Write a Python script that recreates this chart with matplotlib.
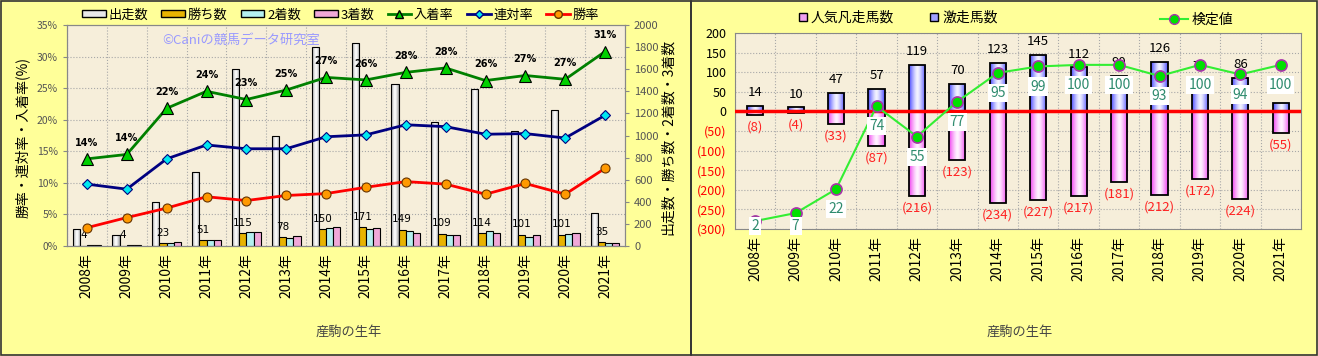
import numpy as np
import matplotlib.pyplot as plt
import matplotlib.colors as mcolors
from matplotlib.patches import Rectangle, Patch
from matplotlib.lines import Line2D
from matplotlib.ticker import MultipleLocator, FuncFormatter

plt.rcParams['font.family'] = ['Noto Sans CJK JP', 'DejaVu Sans']

years = ['2008年', '2009年', '2010年', '2011年', '2012年', '2013年', '2014年',
         '2015年', '2016年', '2017年', '2018年', '2019年', '2020年', '2021年']

# left chart: counts (right axis) and rates (left axis)
runners = [150, 100, 398, 670, 1600, 995, 1800, 1840, 1466, 1122, 1420, 1040, 1230, 298]
wins = [4, 4, 23, 51, 115, 78, 150, 171, 149, 109, 114, 101, 101, 35]
seconds = [10, 5, 31, 55, 131, 74, 162, 153, 132, 103, 138, 84, 109, 25]
thirds = [6, 5, 32, 57, 125, 93, 169, 160, 122, 104, 121, 96, 114, 30]
place_rate = [13.8, 14.5, 21.8, 24.5, 23.2, 24.7, 26.7, 26.3, 27.5, 28.2, 26.2, 27.0, 26.4, 30.8]
place_labels = ['14%', '14%', '22%', '24%', '23%', '25%', '27%', '26%', '28%', '28%',
                '26%', '27%', '27%', '31%']
rentai_rate = [9.8, 9.0, 13.8, 16.0, 15.4, 15.4, 17.3, 17.6, 19.2, 18.9, 17.7, 17.8, 17.1, 20.7]
win_rate = [2.9, 4.5, 6.0, 7.8, 7.2, 8.0, 8.3, 9.3, 10.2, 9.8, 8.2, 9.9, 8.2, 12.3]

# right chart
hot = [14, 10, 47, 57, 119, 70, 123, 145, 112, 90, 126, 79, 86, 21]
hot_labels = ['14', '10', '47', '57', '119', '70', '123', '145', '112', '90', '126', '79', '86', '']
flop = [8, 4, 33, 87, 216, 123, 234, 227, 217, 181, 212, 172, 224, 55]
test_val = [2, 7, 22, 74, 55, 77, 95, 99, 100, 100, 93, 100, 94, 100]

W, H = 1318, 356
BG = '#FFFF99'
PLOT_BG = '#F6EEDA'
GRID = '#A8A8A8'


def fx(px):
    return px / W


def fy(py):
    return 1 - py / H


def gradient_fill(ax, bars, edge_col, mid_col):
    t = np.abs(np.linspace(-1, 1, 48)) ** 1.4
    e = np.array(mcolors.to_rgb(edge_col))
    m = np.array(mcolors.to_rgb(mid_col))
    img = (m[None, :] * (1 - t[:, None]) + e[None, :] * t[:, None])[None, :, :]
    for b in bars:
        x0, y0 = b.get_x(), b.get_y()
        w, h = b.get_width(), b.get_height()
        im = ax.imshow(img, extent=[x0, x0 + w, y0, y0 + h], aspect='auto',
                       origin='lower', interpolation='bilinear',
                       zorder=b.get_zorder() - 0.1)
        im.set_clip_path(b)
        b.set_facecolor('none')


fig = plt.figure(figsize=(W / 100, H / 100), dpi=100)
fig.patch.set_facecolor(BG)
x = np.arange(len(years))

# ---------------- left chart ----------------
ax = fig.add_axes([fx(67), fy(246), fx(625) - fx(67), fy(25) - fy(246)])
ax.set_facecolor(PLOT_BG)
bw = 0.18
b_run = ax.bar(x - 1.5 * bw, runners, bw, edgecolor='black', linewidth=0.8, zorder=2)
ax.bar(x - 0.5 * bw, wins, bw, color='#E8B400', edgecolor='black', linewidth=0.8, zorder=2)
ax.bar(x + 0.5 * bw, seconds, bw, color='#B4F0F0', edgecolor='black', linewidth=0.8, zorder=2)
ax.bar(x + 1.5 * bw, thirds, bw, color='#F0A8D8', edgecolor='black', linewidth=0.8, zorder=2)
gradient_fill(ax, b_run, '#9A9A9A', '#FFFFFF')
ax.set_xlim(-0.5, 13.5)
ax.set_ylim(0, 2000)
ax.yaxis.set_major_locator(MultipleLocator(200))
ax.yaxis.set_minor_locator(MultipleLocator(2000 / 7))
ax.set_xticks(x - 0.5, minor=True)
ax.set_xticks(x, years, rotation=90, fontsize=10)
ax.grid(which='minor', color=GRID, linestyle=':', linewidth=0.8)
ax.set_axisbelow(True)

for xi, v in zip(x, wins):
    ax.annotate(str(v), (xi - 0.5 * bw, v), xytext=(0, 4), textcoords='offset points',
                ha='center', va='bottom', fontsize=7.5, family='DejaVu Sans')

ax2 = ax.twinx()
# bars read on the right, rates on the left
ax.yaxis.tick_right()
ax2.yaxis.tick_left()
ax.tick_params(axis='x', which='both', length=0, pad=5)
ax.tick_params(axis='y', which='minor', length=0, right=False, left=False)
ax.tick_params(axis='y', which='major', length=3, labelsize=8, labelcolor='#555555', color='#888888')
ax2.set_ylim(0, 35)
ax2.yaxis.set_major_locator(MultipleLocator(5))
ax2.yaxis.set_major_formatter(FuncFormatter(lambda v, p: f'{int(v)}%'))
ax2.tick_params(axis='y', length=3, labelsize=7.5, labelcolor='#555555', color='#888888')
ax2.plot(x, place_rate, color='#008000', lw=2, marker='^', ms=8,
         mfc='#00D000', mec='black', mew=0.8, zorder=3)
ax2.plot(x, rentai_rate, color='#000080', lw=2, marker='D', ms=5.5,
         mfc='#00E8F0', mec='#000080', mew=0.8, zorder=3)
ax2.plot(x, win_rate, color='#FF0000', lw=2, marker='o', ms=6.5,
         mfc='#FF9900', mec='#663300', mew=0.8, zorder=3)
for xi, v, lbl in zip(x, place_rate, place_labels):
    ax2.annotate(lbl, (xi, v), xytext=(0, 8), textcoords='offset points',
                 ha='center', va='bottom', fontsize=7, fontweight='bold', family='DejaVu Sans')
for a in (ax, ax2):
    for s in a.spines.values():
        s.set_color('#888888')

ax.text(0.17, 0.932, '©Caniの競馬データ研究室', transform=ax.transAxes,
        ha='left', va='center', fontsize=9.5, color='#9999FF', zorder=1)

left_handles = [
    Patch(facecolor='#E8E8E8', edgecolor='black'),
    Patch(facecolor='#E8B400', edgecolor='black'),
    Patch(facecolor='#B4F0F0', edgecolor='black'),
    Patch(facecolor='#F0A8D8', edgecolor='black'),
    Line2D([], [], color='#008000', lw=2, marker='^', ms=6, mfc='#00D000', mec='black'),
    Line2D([], [], color='#000080', lw=2, marker='D', ms=4.5, mfc='#00E8F0', mec='#000080'),
    Line2D([], [], color='#FF0000', lw=2, marker='o', ms=5.5, mfc='#FF9900', mec='#663300'),
]
left_labels = ['出走数', '勝ち数', '2着数', '3着数', '入着率', '連対率', '勝率']
fig.legend(left_handles, left_labels, loc='center left', bbox_to_anchor=(fx(82), fy(15)),
           ncol=7, frameon=False, fontsize=9.5, handlelength=1.8, handleheight=0.45,
           handletextpad=0.2, columnspacing=1.0, borderpad=0, borderaxespad=0)

fig.text(fx(22), fy(137), '勝率・連対率・入着率(%)', rotation=90, ha='center', va='center', fontsize=10)
fig.text(fx(668), fy(137), '出走数・勝ち数・2着数・3着数', rotation=90, ha='center', va='center', fontsize=10)
fig.text(fx(349), fy(332), '産駒の生年', ha='center', va='center', fontsize=9.5, color='#444444')

# ---------------- right chart ----------------
axr = fig.add_axes([fx(735), fy(229), fx(1301) - fx(735), fy(33) - fy(229)])
axr.set_facecolor(PLOT_BG)
b_hot = axr.bar(x, hot, 0.4, edgecolor='black', linewidth=1.3, zorder=2)
b_flop = axr.bar(x, [-v for v in flop], 0.4, edgecolor='black', linewidth=1.3, zorder=2)
gradient_fill(axr, b_hot, '#4848FF', '#F4F4FF')
gradient_fill(axr, b_flop, '#F040F0', '#FFF4FF')
axr.set_xlim(-0.5, 13.5)
axr.set_ylim(-300, 200)
axr.axhline(0, color='#FF0000', lw=2.5, zorder=3)
yt = list(range(-300, 201, 50))
axr.set_yticks(yt, [str(v) if v >= 0 else f'({-v})' for v in yt])
for lbl, v in zip(axr.get_yticklabels(), yt):
    lbl.set_color('black' if v >= 0 else '#FF0000')
axr.set_xticks(x - 0.5, minor=True)
axr.set_xticks(x, years, rotation=90, fontsize=10)
axr.grid(axis='y', which='major', color=GRID, linestyle=':', linewidth=0.8)
axr.grid(axis='x', which='minor', color=GRID, linestyle=':', linewidth=0.8)
axr.set_axisbelow(True)
axr.tick_params(axis='x', which='both', length=0, pad=5)
axr.tick_params(axis='y', length=0, labelsize=9, pad=6)
for s in axr.spines.values():
    s.set_color('#888888')

for xi, v, lbl in zip(x, hot, hot_labels):
    axr.annotate(lbl, (xi, v), xytext=(0, 5), textcoords='offset points',
                 ha='center', va='bottom', fontsize=9.5)
for xi, v in zip(x, flop):
    axr.annotate(f'({v})', (xi, -v), xytext=(0, -4), textcoords='offset points',
                 ha='center', va='top', fontsize=9.5, color='#FF2020')

axt = axr.twinx()
axt.set_ylim(-3, 120)
axt.axis('off')
axt.plot(x, test_val, color='#33EE33', lw=1.5, marker='o', ms=8,
         mfc='#00E000', mec='#AA33AA', mew=1.2, zorder=3)
for xi, v in zip(x, test_val):
    axt.text(xi, max(v - 12.6, -1.0), str(v), ha='center', va='center', fontsize=10,
             color='#2E8B6E', zorder=5,
             bbox=dict(facecolor='white', edgecolor='none', pad=1.5))

fig.legend([Patch(facecolor='#F0A0F0', edgecolor='black'), Patch(facecolor='#A0A0FF', edgecolor='black')],
           ['人気凡走馬数', '激走馬数'], loc='center left', bbox_to_anchor=(fx(799), fy(18)),
           ncol=2, frameon=False, fontsize=10, handlelength=0.55, handleheight=0.55,
           handletextpad=0.3, columnspacing=2.6, borderpad=0, borderaxespad=0)
fig.legend([Line2D([], [], color='#33EE33', lw=1.5, marker='o', ms=7, mfc='#00E000', mec='#AA33AA')],
           ['検定値'], loc='center left', bbox_to_anchor=(fx(1160), fy(20)),
           frameon=False, fontsize=10, handlelength=2.0, handletextpad=0.3,
           borderpad=0, borderaxespad=0)

fig.text(fx(1020), fy(332), '産駒の生年', ha='center', va='center', fontsize=9.5, color='#444444')

# panel borders
for x0, x1 in [(1, 691), (691, 1317)]:
    fig.add_artist(Rectangle((fx(x0), 1 / H), fx(x1) - fx(x0), 1 - 2 / H,
                             transform=fig.transFigure, fill=False,
                             edgecolor='#333333', lw=1.2))

fig.savefig('out.png', dpi=100, facecolor=fig.get_facecolor())
